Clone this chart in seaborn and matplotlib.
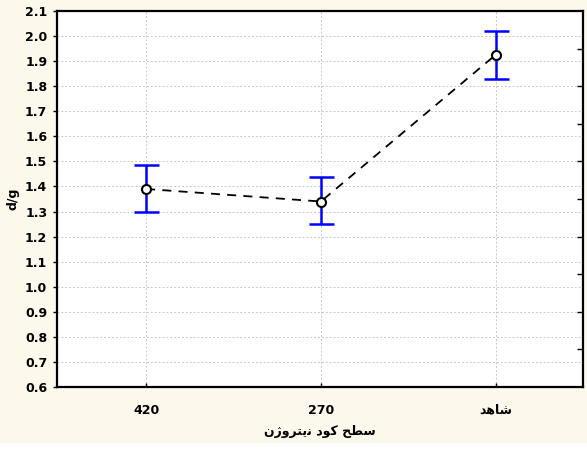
import numpy as np
import pandas as pd
import matplotlib
matplotlib.use("Agg")
import matplotlib.pyplot as plt
import seaborn as sns

# ---- data ----
categories = ["420", "270", "\uFEAA\uFEEB\uFE8E\uFEB7"]   # third: Persian "control"
means = [1.39, 1.34, 1.925]
err_low = [1.298, 1.250, 1.830]
err_high = [1.486, 1.439, 2.020]
y_ticks = [0.6, 0.7, 0.8, 0.9, 1.0, 1.1, 1.2, 1.3, 1.4, 1.5, 1.6, 1.7, 1.8, 1.9, 2.0, 2.1]
x_label = ("\uFEE5\uFB8A\uFEED\uFEAE\uFE98\uFBFE\uFEE7 "
           "\uFEA9\uFEEE\uFB90 "
           "\uFEA2\uFEC4\uFEB3")
y_label = "d/g"

sns.set_theme(style="white")
plt.rcParams["font.family"] = ["DejaVu Sans"]
plt.rcParams["text.color"] = "black"
plt.rcParams["axes.labelcolor"] = "black"
plt.rcParams["xtick.color"] = "black"
plt.rcParams["ytick.color"] = "black"

bg = "#fdf8ec"
fig = plt.figure(figsize=(5.87, 4.65), dpi=100, facecolor=bg)
# white strip at the bottom
fig.patches.append(plt.Rectangle((0, 0), 1, 22 / 465, transform=fig.transFigure,
                                 facecolor="white", edgecolor="none", zorder=0))
ax = fig.add_axes([57 / 587, 1 - 387 / 465, (583 - 57) / 587, (387 - 11) / 465])
ax.set_facecolor("white")

df = pd.DataFrame({"cat": categories, "val": means})
sns.pointplot(data=df, x="cat", y="val", order=categories, errorbar=None,
              color="black", linestyles="--", markers="o", ax=ax,
              markerfacecolor="white", markeredgecolor="black",
              markersize=6.5, markeredgewidth=1.5, linewidth=1.3, zorder=4)
for ln in ax.lines:
    ln.set_dashes((5, 4))

pos = np.arange(len(categories))
yerr = np.array([np.array(means) - np.array(err_low), np.array(err_high) - np.array(means)])
ax.errorbar(pos, means, yerr=yerr, fmt="none", ecolor="#0000ff", elinewidth=1.8,
            capsize=9, capthick=1.8, zorder=3)

ax.set_xlim(-0.51, 2.5)
ax.set_ylim(0.6, 2.1)
ax.set_yticks(y_ticks)
ax.set_yticklabels([f"{v:.1f}" for v in y_ticks], fontsize=9, fontweight="bold", color="black")
ax.set_xticks(pos)
ax.set_xticklabels(categories, fontsize=9, fontweight="bold", color="black")

ax.grid(True, color="#c8c8c8", linestyle=(0, (2, 2)), linewidth=0.7)
ax.set_axisbelow(True)
for s in ax.spines.values():
    s.set_visible(True)
    s.set_color("black")
    s.set_linewidth(1.6)

ax.tick_params(axis="y", direction="out", length=3, width=1, color="black", pad=4, left=True)
ax.tick_params(axis="x", direction="in", length=3, width=1, color="black", pad=12, bottom=True)

# inward ticks on the right side
ax2 = ax.twinx()
ax2.set_ylim(0.6, 2.1)
ax2.set_yticks([0.75, 0.9, 1.05, 1.2, 1.35, 1.5, 1.65, 1.8, 1.95])
ax2.set_yticklabels([])
ax2.tick_params(axis="y", direction="in", length=4, width=1, color="black", right=True)
ax2.grid(False)
for s in ax2.spines.values():
    s.set_visible(False)

ax.set_xlabel(x_label, fontsize=9, fontweight="bold", labelpad=6, color="black")
ax.set_ylabel(y_label, fontsize=9, fontweight="bold", labelpad=4, color="black")

fig.savefig("out.png", dpi=100, facecolor=bg)
